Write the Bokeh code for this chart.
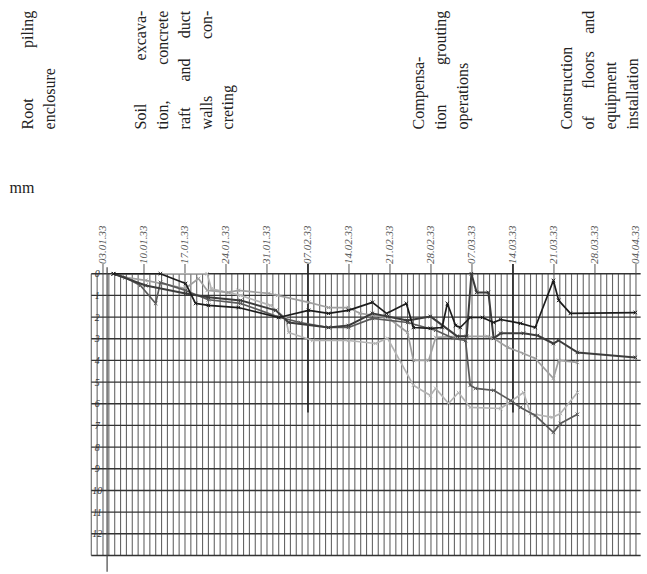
from bokeh.plotting import figure
from bokeh.models import Range1d
from bokeh.core.properties import value
from bokeh.embed import file_html
from bokeh.resources import INLINE
import math

# ---------------- data ----------------
tick_days = [0, 7, 14, 21, 28, 35, 42, 49, 56, 63, 70, 77, 84, 91]
date_labels = ["03.01.33", "10.01.33", "17.01.33", "24.01.33", "31.01.33",
               "07.02.33", "14.02.33", "21.02.33", "28.02.33", "07.03.33",
               "14.03.33", "21.03.33", "28.03.33", "04.04.33"]
mm_labels = ["0", "1", "2", "3", "4", "5", "6", "7", "8", "9", "10", "11", "12"]
mm_levels = [0, 1, 2, 3, 4, 5, 6, 7, 8, 9, 10, 11, 12]
event_days = [35, 70]
event_depth = 6.4

s1_day = [1.8, 9.8, 14.1, 15.8, 18.0, 23.1, 30.0, 35.1, 38.5, 41.9, 46.0, 48.4, 51.8, 53.0,
          55.9, 57.9, 58.8, 60.2, 61.0, 62.7, 64.8, 66.7, 67.9, 71.3, 73.8, 76.9, 77.8, 79.8, 90.9]
s1_mm = [0.0, 0.0, 0.45, 1.37, 1.46, 1.56, 2.02, 1.69, 1.83, 1.69, 1.32, 1.83, 1.37, 2.48,
         2.52, 2.48, 1.37, 2.39, 2.48, 2.02, 2.02, 2.25, 2.11, 2.29, 2.48, 0.31, 1.23, 1.83, 1.79]

s2_day = [1.8, 7.3, 14.1, 18.0, 23.5, 29.5, 31.7, 38.5, 41.9, 46.0, 48.6, 52.0, 55.9,
          60.5, 62.1, 62.9, 63.8, 65.8, 66.7, 67.9, 71.8, 74.2, 76.9, 77.8, 81.0, 90.9]
s2_mm = [0.0, 0.54, 0.91, 1.09, 1.23, 1.69, 2.25, 2.48, 2.39, 1.83, 1.97, 2.16, 1.97,
         2.89, 2.89, 0.0, 0.86, 0.86, 2.98, 2.75, 2.75, 2.85, 3.22, 3.08, 3.63, 3.86]

s3_day = [1.8, 3.8, 7.3, 14.1, 16.3, 17.8, 21.4, 23.1, 28.3, 29.8, 35.1, 38.5, 41.9, 43.9,
          48.6, 52.0, 53.0, 55.6, 56.8, 60.5, 65.6, 66.7, 69.1, 71.8, 73.8, 76.9, 77.8, 81.0]
s3_mm = [0.0, 0.17, 0.31, 0.68, 0.22, 0.77, 0.86, 0.77, 0.91, 1.0, 1.32, 1.56, 1.56, 1.83,
         2.02, 2.71, 4.0, 4.0, 2.94, 2.89, 2.89, 2.98, 3.40, 3.68, 3.91, 4.83, 4.0, 4.09]

s4_day = [1.8, 3.8, 6.4, 9.0, 9.8, 14.1, 18.0, 23.5, 30.0, 33.7, 38.5, 41.9, 46.0, 52.0,
          56.8, 59.8, 61.9, 62.7, 63.6, 66.7, 69.6, 71.3, 73.8, 76.9, 78.1, 81.0]
s4_mm = [0.0, 0.17, 0.54, 1.37, 0.4, 0.77, 1.2, 1.37, 2.0, 2.25, 2.48, 2.48, 2.06, 2.25,
         2.61, 2.98, 3.08, 5.15, 5.29, 5.38, 5.85, 6.17, 6.54, 7.32, 6.91, 6.49]

s5_day = [1.8, 17.8, 18.5, 23.5, 28.6, 31.2, 31.7, 35.8, 41.9, 46.5, 48.6, 53.0, 55.9, 56.8,
          59.0, 60.7, 62.7, 67.9, 69.1, 71.8, 73.0, 76.7, 78.1, 81.0]
s5_mm = [0.0, 0.0, 0.7, 1.0, 1.46, 2.06, 2.71, 3.08, 3.08, 3.22, 2.98, 5.15, 5.62, 5.29,
         5.99, 5.48, 6.17, 6.22, 5.99, 5.48, 6.45, 6.63, 6.45, 5.48]

phase_text = [["Root piling", "enclosure"],
              ["Soil excava-", "tion, concrete", "raft and duct", "walls con-", "creting"],
              ["Compensa-", "tion grouting", "operations"],
              ["Construction", "of floors and", "equipment", "installation"]]
phase_cols = [[-12.9, -9.13],
              [6.4, 10.16, 13.9, 17.67, 21.26],
              [53.87, 57.63, 61.38],
              [79.1, 82.9, 86.6, 90.4]]

# ---------------- figure ----------------
W, H = 647, 574
p = figure(width=W, height=H, output_backend="svg", toolbar_location=None,
           x_range=Range1d(-17.5, 92.97), y_range=Range1d(13.88, -12.61),
           min_border=0, background_fill_color="white", border_fill_color="white")
p.axis.visible = False
p.grid.visible = False
p.outline_line_color = None

serif = value("Liberation Serif")

# daily vertical grid
vx = list(range(-2, 92))
p.segment(x0=vx, y0=[0] * len(vx), x1=vx, y1=[13] * len(vx), line_color="#666666", line_width=1.1)
# horizontal mm grid
hy = list(range(0, 14))
p.segment(x0=[-2] * len(hy), y0=hy, x1=[91.8] * len(hy), y1=hy, line_color="#333333", line_width=1.4)
# left axis
p.segment(x0=[0.7], y0=[-0.3], x1=[0.7], y1=[13.75], line_color="#444444", line_width=1.2)
# weekly ticks above
p.segment(x0=tick_days, y0=[-0.45] * len(tick_days), x1=tick_days, y1=[0] * len(tick_days),
          line_color="#555555", line_width=1)
# event lines
p.segment(x0=event_days, y0=[-0.45] * 2, x1=event_days, y1=[event_depth] * 2,
          line_color="#222222", line_width=1.6)

# series
series = [(s5_day, s5_mm, "#b4b4b4", 1.7), (s3_day, s3_mm, "#a0a0a0", 1.7),
          (s4_day, s4_mm, "#5a5a5a", 1.7), (s2_day, s2_mm, "#3c3c3c", 2.0),
          (s1_day, s1_mm, "#1c1c1c", 1.7)]
for d, m, c, w in series:
    p.line(d, m, line_color=c, line_width=w)
    p.scatter(d, m, marker="x", size=5, line_color=c, line_width=1)

# labels
p.text(x=[-1.0] * len(mm_levels), y=mm_levels, text=mm_labels, text_font=serif,
       text_font_style="italic", text_font_size="10px", text_align="center",
       text_baseline="middle", text_color="#333333")
p.text(x=tick_days, y=[-0.45] * len(tick_days), text=date_labels, angle=math.pi / 2,
       text_font=serif, text_font_style="italic", text_font_size="11px",
       text_align="left", text_baseline="middle", text_color="#555555")
p.text(x=[-15.96], y=[-3.98], text=["mm"], text_font=serif, text_font_size="16px",
       text_align="left", text_baseline="alphabetic", text_color="#222222")

bottom, top = -6.66, -12.14
for lines, cols in zip(phase_text, phase_cols):
    for i, (ln, cx) in enumerate(zip(lines, cols)):
        words = ln.split(" ")
        last = (i == len(lines) - 1)
        if last or len(words) == 1:
            p.text(x=[cx], y=[bottom], text=[ln], angle=math.pi / 2, text_font=serif,
                   text_font_size="16px", text_align="left", text_baseline="middle",
                   text_color="#222222")
        else:
            n = len(words)
            for j, wd in enumerate(words):
                if j == 0:
                    ya, al = bottom, "left"
                elif j == n - 1:
                    ya, al = top, "right"
                else:
                    ya, al = bottom + (top - bottom) * j / (n - 1), "center"
                p.text(x=[cx], y=[ya], text=[wd], angle=math.pi / 2, text_font=serif,
                       text_font_size="16px", text_align=al, text_baseline="middle",
                       text_color="#222222")

open("out.html", "w").write(file_html(p, INLINE))
